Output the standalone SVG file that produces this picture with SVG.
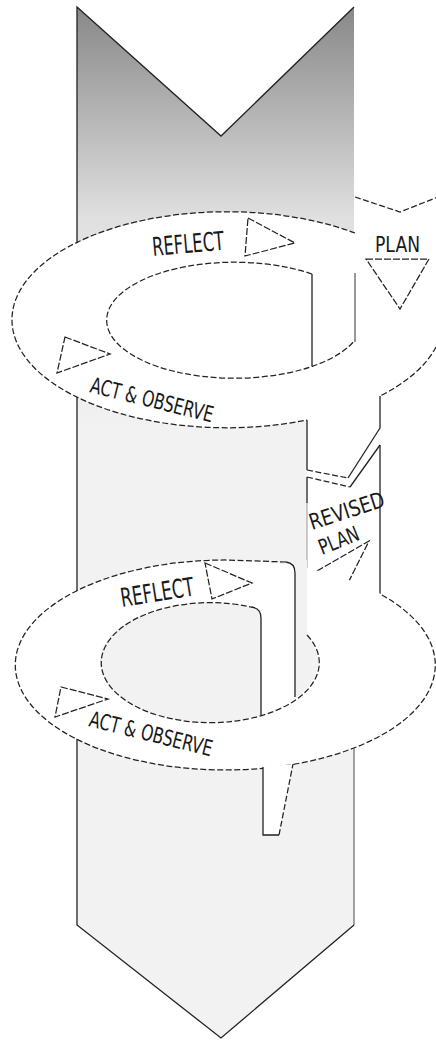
<svg xmlns="http://www.w3.org/2000/svg" width="436" height="1040" viewBox="0 0 436 1040">
<defs>
<linearGradient id="shaftGrad" gradientUnits="userSpaceOnUse" x1="0" y1="7" x2="0" y2="430">
<stop offset="0" stop-color="#888888"/>
<stop offset="0.5" stop-color="#e0e0e0"/>
<stop offset="1" stop-color="#f2f2f2"/>
</linearGradient>
</defs>
<style>
.dash{fill:none;stroke:#222;stroke-width:1.25;stroke-dasharray:6 2.5}
.solid{fill:none;stroke:#222;stroke-width:1.3}
.faint{fill:none;stroke:#9a9a9a;stroke-width:1}
.tri{fill:none;stroke:#222;stroke-width:1.25;stroke-dasharray:7 2}
.lbl{font-family:"DejaVu Sans Condensed","Liberation Sans Narrow","Liberation Sans",sans-serif;fill:#1a1a1a}
</style>

<g id="shaft">
<path d="M77,7 L221,136 L354,7 L354,925 L221,1038 L77,925 Z" fill="url(#shaftGrad)"/>
<path class="solid" d="M354,7 L221,136 L77,7 L77,925 L221,1038 L354,925"/>
<path fill="none" stroke="#666" stroke-width="1.2" d="M354,740 L354,925"/>
</g>

<g id="ring1">
<ellipse cx="228" cy="320" rx="215" ry="108" fill="#fff"/>
<path class="dash" d="M355,233 A215 108 0 1 0 307,420"/>
<path class="dash" d="M436,347 A215 108 0 0 1 380,396"/>
<path class="dash" d="M312,274 A128 58 0 1 0 355,340"/>
<path class="solid" d="M312,274 L312,366"/>
<path fill="none" stroke="#555" stroke-width="1.2" d="M355,273 L355,342"/>
</g>

<g id="plan-strip">
<path class="dash" d="M355,197 L400,212 L438,197"/>
<path class="tri" d="M366,259 L429,259 L400,309 Z"/>
<text class="lbl" x="375" y="252" font-size="22" textLength="45" lengthAdjust="spacingAndGlyphs">PLAN</text>
</g>

<g id="revised-strip">
<rect x="307" y="396" width="73" height="200" fill="#fff"/>
<path class="solid" d="M307,420 L307,470"/>
<path class="solid" d="M307,477 L307,503"/>
<path class="faint" d="M307,503 L307,635"/>
<path class="solid" d="M380,396 L380,428"/>
<path class="solid" d="M380,445 L380,594"/>
<path class="dash" d="M307,470 L348,478"/>
<path class="solid" d="M348,478 L380,428"/>
<path class="dash" d="M307,477 L350,487"/>
<path class="solid" d="M350,487 L380,445"/>
<text class="lbl" x="312" y="530" font-size="22" textLength="78" lengthAdjust="spacingAndGlyphs" transform="rotate(-18 312 530)">REVISED</text>
<text class="lbl" x="322" y="555" font-size="21" textLength="42" lengthAdjust="spacingAndGlyphs" transform="rotate(-22 322 555)">PLAN</text>
<path class="tri" d="M317,571 L369,541 L342,595 Z"/>
</g>

<g id="ring2">
<ellipse cx="226" cy="665" rx="210" ry="105" fill="#fff"/>
<path d="M261,715 L261,618 Q261,607 251,607 A109 60 0 1 0 261,715 Z" fill="#f2f2f2"/>
<path d="M295,560 L307,560 L307,635 A109 60 0 0 1 297,697 L295,697 Z" fill="#f2f2f2"/>
<path class="dash" d="M286,562 L226,560 A210 105 0 1 0 380,594"/>
<path class="solid" d="M286,562 Q295,563 295,573 L295,697"/>
<path class="dash" d="M307,635 A109 60 0 1 1 251,607"/>
<path class="solid" d="M251,607 Q261,608 261,618 L261,715"/>
</g>

<g id="stub">
<path d="M263,767 L263,835 L279,835 L293,764 Z" fill="#fff"/>
<path class="solid" d="M263,767 L263,835 L279,835"/>
<path class="dash" d="M279,835 L293,764"/>
</g>

<g id="labels">
<text class="lbl" x="153" y="256" font-size="26" textLength="72" lengthAdjust="spacingAndGlyphs" transform="rotate(-5 153 256)">REFLECT</text>
<path class="tri" d="M248,218 L295,243 L245,256 Z"/>
<path class="tri" d="M65,337 L110,354 L57,373 Z"/>
<text class="lbl" x="89" y="392" font-size="22" textLength="126" lengthAdjust="spacingAndGlyphs" transform="rotate(14 89 392)">ACT &amp; OBSERVE</text>
<text class="lbl" x="122" y="607" font-size="26" textLength="74" lengthAdjust="spacingAndGlyphs" transform="rotate(-9 122 607)">REFLECT</text>
<path class="tri" d="M205,563 L252,583 L212,599 Z"/>
<path class="tri" d="M61,687 L108,699 L55,717 Z"/>
<text class="lbl" x="88" y="726" font-size="22" textLength="126" lengthAdjust="spacingAndGlyphs" transform="rotate(14 88 726)">ACT &amp; OBSERVE</text>
</g>
</svg>
